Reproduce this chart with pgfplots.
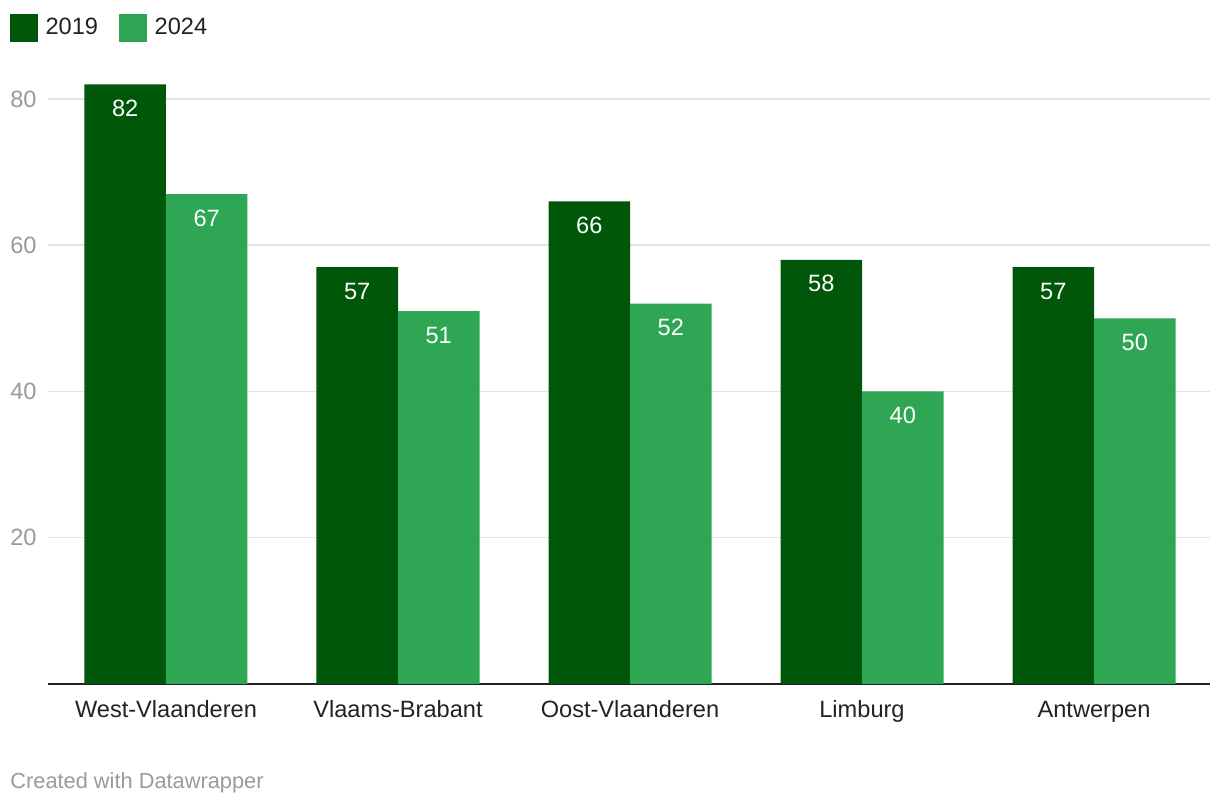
\documentclass[border=0pt]{standalone}
\usepackage{fontspec}
\setmainfont{Liberation Sans}
\usepackage{pgfplots}
\pgfplotsset{compat=1.18}

\definecolor{dg}{HTML}{00570A}
\definecolor{lg}{HTML}{2EA653}
\definecolor{gridc}{HTML}{E3E3E3}
\definecolor{tickc}{HTML}{9A9A9A}
\definecolor{txt}{HTML}{222222}

\begin{document}
\begin{tikzpicture}
\useasboundingbox (0,0) rectangle (610pt,403pt);
\begin{axis}[
    at={(24pt,61pt)}, anchor=south west,
    scale only axis, width=581pt, height=307.125pt,
    xmin=-0.5086, xmax=4.5, ymin=0, ymax=84,
    ybar=0pt, bar width=40.75pt,
    axis x line*=bottom, axis y line*=left,
    x axis line style={draw=txt, line width=1pt},
    y axis line style={draw=none},
    major tick length=0pt,
    xtick={0,1,2,3,4},
    xticklabels={West-Vlaanderen,Vlaams-Brabant,Oost-Vlaanderen,Limburg,Antwerpen},
    ytick={20,40,60,80},
    ymajorgrids=true,
    grid style={draw=gridc, line width=0.75pt},
    /pgf/number format/assume math mode=true,
    xticklabel style={anchor=base, yshift=-17pt, text=txt, font=\fontsize{11.8}{13}\selectfont},
    yticklabel style={anchor=east, inner sep=0pt, xshift=-5.5pt, text=tickc, font=\fontsize{11.8}{13}\selectfont},
    nodes near coords,
    every node near coord/.append style={anchor=center, yshift=-12pt, text=white, font=\fontsize{11.8}{13}\selectfont},
    legend style={at={(-0.0327,1.0908)}, anchor=north west, draw=none, fill=none,
        inner sep=0pt, outer sep=0pt, column sep=4pt,
        font=\fontsize{11.8}{13}\selectfont, text=txt,
        nodes={inner sep=0pt},
        /tikz/every even column/.append style={column sep=10.5pt}},
    legend columns=-1,
    legend image code/.code={\fill[#1] (0pt,-6.9pt) rectangle (13.8pt,6.9pt);},
]
\addplot[fill=dg, draw=none] coordinates {(0,82) (1,57) (2,66) (3,58) (4,57)};
\addplot[fill=lg, draw=none] coordinates {(0,67) (1,51) (2,52) (3,40) (4,50)};
\legend{2019,2024}
\end{axis}
\node[anchor=base west, inner sep=0pt, text=tickc, font=\fontsize{10.9}{12}\selectfont] at (5pt,8.5pt) {Created with Datawrapper};
\end{tikzpicture}
\end{document}
